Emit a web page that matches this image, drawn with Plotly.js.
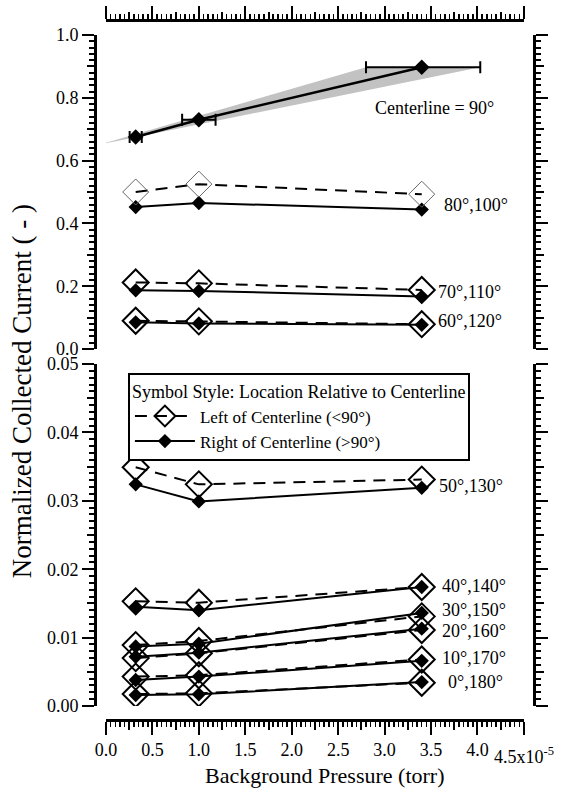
<!DOCTYPE html>
<html><head><meta charset="utf-8">
<script src="https://cdn.plot.ly/plotly-3.0.1.min.js"></script>
<style>html,body{margin:0;padding:0;background:#fff}#chart{width:562px;height:792px}</style>
</head><body><div id="chart"></div>
<script>
// Background pressure, in units of 1e-5 torr
const pressure = [0.32, 1.0, 3.4];
// Centerline (90 deg) with horizontal pressure uncertainty
const centerline90 = [0.675, 0.73, 0.897];
const errPlus = [0.065, 0.18, 0.63];
const errMinus = [0.065, 0.18, 0.60];
// Grey uncertainty wedge
const bandX = [-0.065, 2.80, 4.03, -0.065];
const bandY = [0.651, 0.897, 0.897, 0.651];

// Top panel (0 - 1.0): left of centerline (open) / right of centerline (filled)
const left80 = [0.50, 0.525, 0.493];   const right100 = [0.452, 0.465, 0.444];
const left70 = [0.212, 0.209, 0.188];  const right110 = [0.187, 0.185, 0.167];
const left60 = [0.090, 0.088, 0.079];  const right120 = [0.085, 0.0815, 0.077];
// Bottom panel (0 - 0.05)
const left50 = [0.0349, 0.0324, 0.0331]; const right130 = [0.0324, 0.0299, 0.0319];
const left40 = [0.0153, 0.0151, 0.0174]; const right140 = [0.0145, 0.0140, 0.0174];
const left30 = [0.0089, 0.0095, 0.0131]; const right150 = [0.0087, 0.0091, 0.0136];
const left20 = [0.0070, 0.0077, 0.0111]; const right160 = [0.0072, 0.0078, 0.0113];
const left10 = [0.0043, 0.0045, 0.0068]; const right170 = [0.0038, 0.0043, 0.0066];
const left0  = [0.00175, 0.00185, 0.0034]; const right180 = [0.0016, 0.0017, 0.0035];

const seriesLabelsTop = ['80°,100°', '70°,110°', '60°,120°'];
const seriesLabelsBottom = ['50°,130°', '40°,140°', '30°,150°', '20°,160°', '10°,170°', '0°,180°'];

const F = '"Liberation Serif", "Times New Roman", serif';
const K = 'black';
const LEFT_NAME = 'Left of Centerline (<90°)', RIGHT_NAME = 'Right of Centerline (>90°)';

function openTrace(y, xa, ya, show, thin) {
  return {x: pressure, y: y, xaxis: xa, yaxis: ya, mode: 'lines+markers', name: LEFT_NAME,
    showlegend: !!show, hoverinfo: 'skip',
    line: {color: K, width: 2, dash: '12px,8px'},
    marker: {symbol: 'diamond-open', size: 20, color: thin ? '#666' : K, line: {width: thin ? 1 : 2, color: thin ? '#666' : K}}};
}
function filledTrace(y, xa, ya, show) {
  return {x: pressure, y: y, xaxis: xa, yaxis: ya, mode: 'lines+markers', name: RIGHT_NAME,
    showlegend: !!show, hoverinfo: 'skip',
    line: {color: K, width: 2},
    marker: {symbol: 'diamond', size: 11, color: K}};
}

const data = [
  {x: bandX, y: bandY, xaxis: 'x', yaxis: 'y', mode: 'lines', fill: 'toself', fillcolor: '#c2c2c2', line: {width: 0}, showlegend: false, hoverinfo: 'skip'},
  openTrace(left50, 'x', 'y6', true),
  filledTrace(right130, 'x', 'y4', true),
  openTrace(left80, 'x', 'y7', false, true), openTrace(left70, 'x', 'y5'), openTrace(left60, 'x', 'y'),
  openTrace(left40, 'x', 'y8'), openTrace(left30, 'x', 'y2'),
  openTrace(left20, 'x', 'y2'), openTrace(left10, 'x', 'y2'), openTrace(left0, 'x4', 'y2'),
  filledTrace(right100, 'x', 'y3'), filledTrace(right110, 'x', 'y3'), filledTrace(right120, 'x', 'y3'),
  filledTrace(right140, 'x', 'y4'), filledTrace(right150, 'x', 'y4'),
  filledTrace(right160, 'x', 'y4'), filledTrace(right170, 'x', 'y4'), filledTrace(right180, 'x3', 'y2'),
  {x: pressure, y: centerline90, xaxis: 'x2', yaxis: 'y', mode: 'lines+markers', showlegend: false, hoverinfo: 'skip',
   line: {color: K, width: 2.5}, marker: {symbol: 'diamond', size: 12, color: K},
   error_x: {type: 'data', symmetric: false, array: errPlus, arrayminus: errMinus, color: K, thickness: 2, width: 6}}
];

const base = {showgrid: false, zeroline: false, color: K, tickcolor: K, linecolor: K, linewidth: 2.5, tickwidth: 2,
  ticks: 'outside', tickfont: {family: F, size: 18, color: K}};
function ax(o) { return Object.assign({}, base, o); }
function mnr(d, w) { return {dtick: d, tick0: 0, ticks: 'outside', ticklen: 5, tickwidth: w, tickcolor: K}; }
function medium(o) { return ax(Object.assign({showline: false, tickmode: 'linear', ticklen: 8.5, tickwidth: 2, showticklabels: false}, o)); }

const TOP = [0.53, 0.9786], BOT = [0.02, 0.5086];
const XD = [0.025, 0.977];
const layout = {
  width: 562, height: 792,
  margin: {l: 95, r: 28, t: 20, b: 72},
  paper_bgcolor: 'white', plot_bgcolor: 'rgba(0,0,0,0)',
  font: {family: F, size: 18, color: K},
  showlegend: true,
  legend: {x: 0.075, y: 0.4957, xanchor: 'left', yanchor: 'top', bgcolor: 'white', bordercolor: K, borderwidth: 2,
    font: {family: F, size: 17, color: K}, itemwidth: 60, tracegroupgap: 0, traceorder: 'normal',
    title: {text: 'Symbol Style: Location Relative to Centerline', font: {family: F, size: 18, color: K}}},
  // bottom ruler
  xaxis: ax({domain: XD, range: [0, 4.5], anchor: 'free', position: 0, side: 'bottom', showline: true,
    tickmode: 'linear', tick0: 0, dtick: 0.5, tickformat: '.1f', labelalias: {'4.5': ' '}, ticklen: 13, minor: mnr(0.05, 1.5)}),
  // top ruler
  xaxis2: ax({overlaying: 'x', range: [0, 4.5], anchor: 'free', position: 1, side: 'top', showline: true,
    tickmode: 'linear', tick0: 0, dtick: 0.5, ticklen: 13, showticklabels: false, minor: mnr(0.05, 1.5)}),
  xaxis3: medium({overlaying: 'x', range: [0, 4.5], anchor: 'free', position: 0, side: 'bottom', tick0: 0.25, dtick: 0.5}),
  xaxis4: medium({overlaying: 'x', range: [0, 4.5], anchor: 'free', position: 1, side: 'top', tick0: 0.25, dtick: 0.5}),
  // top panel
  yaxis: ax({domain: TOP, range: [0, 1], anchor: 'free', position: 0, side: 'left', showline: true,
    tickmode: 'linear', tick0: 0, dtick: 0.2, tickformat: '.1f', ticklen: 12, minor: mnr(0.02, 2)}),
  yaxis3: ax({overlaying: 'y', range: [0, 1], anchor: 'free', position: 1, side: 'right', showline: true,
    tickmode: 'linear', tick0: 0, dtick: 0.2, ticklen: 12, showticklabels: false, minor: mnr(0.02, 2)}),
  yaxis5: medium({overlaying: 'y', range: [0, 1], anchor: 'free', position: 0, side: 'left', tick0: 0.1, dtick: 0.2}),
  yaxis7: medium({overlaying: 'y', range: [0, 1], anchor: 'free', position: 1, side: 'right', tick0: 0.1, dtick: 0.2}),
  // bottom panel
  yaxis2: ax({domain: BOT, range: [0, 0.05], anchor: 'free', position: 0, side: 'left', showline: true,
    tickmode: 'linear', tick0: 0, dtick: 0.01, tickformat: '.2f', ticklen: 12, minor: mnr(0.001, 2)}),
  yaxis4: ax({overlaying: 'y2', range: [0, 0.05], anchor: 'free', position: 1, side: 'right', showline: true,
    tickmode: 'linear', tick0: 0, dtick: 0.01, ticklen: 12, showticklabels: false, minor: mnr(0.001, 2)}),
  yaxis6: medium({overlaying: 'y2', range: [0, 0.05], anchor: 'free', position: 0, side: 'left', tick0: 0.005, dtick: 0.01}),
  yaxis8: medium({overlaying: 'y2', range: [0, 0.05], anchor: 'free', position: 1, side: 'right', tick0: 0.005, dtick: 0.01}),
  annotations: [
    {text: 'Centerline = 90°', xref: 'x', yref: 'y', x: 2.87, y: 0.767, xanchor: 'left', yanchor: 'middle', showarrow: false, font: {family: F, size: 18, color: K}},
    {text: seriesLabelsTop[0], xref: 'x', yref: 'y', x: 3.62, y: 0.46, xanchor: 'left', yanchor: 'middle', showarrow: false, font: {family: F, size: 18, color: K}},
    {text: seriesLabelsTop[1], xref: 'x', yref: 'y', x: 3.55, y: 0.183, xanchor: 'left', yanchor: 'middle', showarrow: false, font: {family: F, size: 18, color: K}},
    {text: seriesLabelsTop[2], xref: 'x', yref: 'y', x: 3.55, y: 0.088, xanchor: 'left', yanchor: 'middle', showarrow: false, font: {family: F, size: 18, color: K}},
    {text: seriesLabelsBottom[0], xref: 'x', yref: 'y2', x: 3.56, y: 0.0321, xanchor: 'left', yanchor: 'middle', showarrow: false, font: {family: F, size: 18, color: K}},
    {text: seriesLabelsBottom[1], xref: 'x', yref: 'y2', x: 3.60, y: 0.0175, xanchor: 'left', yanchor: 'middle', showarrow: false, font: {family: F, size: 18, color: K}},
    {text: seriesLabelsBottom[2], xref: 'x', yref: 'y2', x: 3.60, y: 0.0141, xanchor: 'left', yanchor: 'middle', showarrow: false, font: {family: F, size: 18, color: K}},
    {text: seriesLabelsBottom[3], xref: 'x', yref: 'y2', x: 3.60, y: 0.0110, xanchor: 'left', yanchor: 'middle', showarrow: false, font: {family: F, size: 18, color: K}},
    {text: seriesLabelsBottom[4], xref: 'x', yref: 'y2', x: 3.60, y: 0.0070, xanchor: 'left', yanchor: 'middle', showarrow: false, font: {family: F, size: 18, color: K}},
    {text: seriesLabelsBottom[5], xref: 'x', yref: 'y2', x: 3.66, y: 0.00354, xanchor: 'left', yanchor: 'middle', showarrow: false, font: {family: F, size: 18, color: K}},
    {text: '4.5x10<sup>-5</sup>', xref: 'x', yref: 'paper', x: 4.5, y: -0.05, xanchor: 'center', yanchor: 'middle', showarrow: false, font: {family: F, size: 18, color: K}},
    {text: 'Background Pressure (torr)', xref: 'paper', yref: 'paper', x: 0.524, y: -0.0786, xanchor: 'center', yanchor: 'middle', showarrow: false, font: {family: F, size: 22, color: K}},
    {text: 'Normalized Collected Current ( - )', xref: 'paper', yref: 'paper', x: -0.166, y: 0.47, xanchor: 'center', yanchor: 'middle', textangle: -90, showarrow: false, font: {family: F, size: 27, color: K}}
  ]
};

Plotly.newPlot('chart', data, layout, {staticPlot: true, displayModeBar: false});
</script>
</body></html>
